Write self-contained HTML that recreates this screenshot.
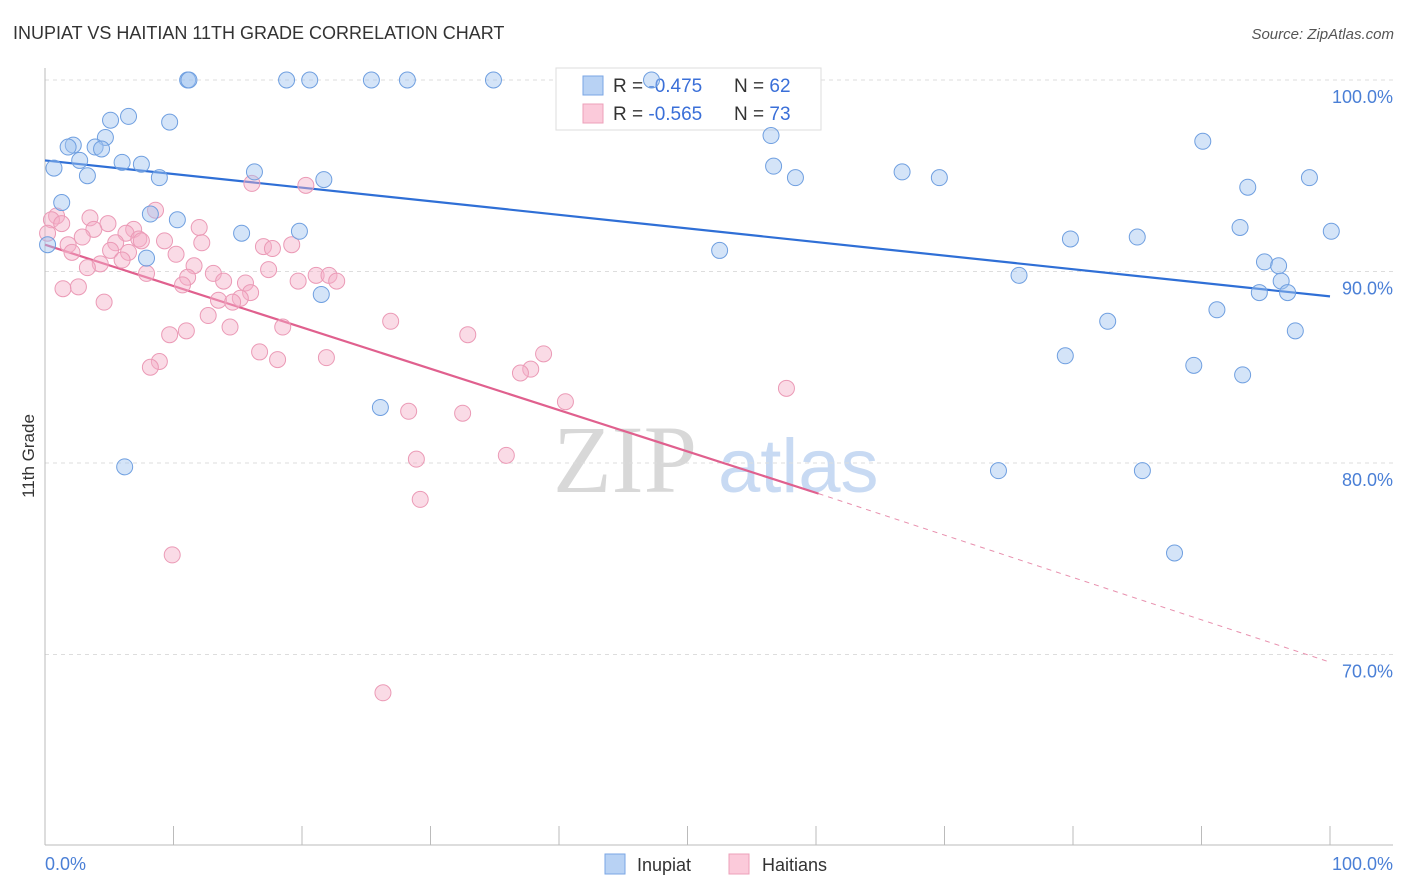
<!DOCTYPE html>
<html><head><meta charset="utf-8">
<style>
body{margin:0;background:#fff;font-family:"Liberation Sans",sans-serif;}
svg{display:block}
</style></head>
<body>
<svg id="chart" width="1406" height="892" viewBox="0 0 1406 892" xmlns="http://www.w3.org/2000/svg">
<text x="13" y="39" font-size="18" fill="#333" font-family="Liberation Sans, sans-serif">INUPIAT VS HAITIAN 11TH GRADE CORRELATION CHART</text>
<text x="1394" y="39" font-size="15" fill="#555" text-anchor="end" font-style="italic">Source: ZipAtlas.com</text>
<g>
<text x="553" y="492" font-size="96" fill="#d8d8d8" font-family="Liberation Serif, serif">ZIP</text>
<text x="718" y="492" font-size="76" fill="#c8daf3" font-family="Liberation Sans, sans-serif">atlas</text>
</g>
<g id="grid"></g>
<g id="axes"></g>
<g>
<rect x="556" y="68" width="265" height="62" fill="#fff" stroke="#ddd"/>
<rect x="583" y="76" width="20" height="19" fill="#b8d2f4" stroke="#7aa6e4"/>
<rect x="583" y="104" width="20" height="19" fill="#fbcada" stroke="#eda0ba"/>
<text x="613" y="92" font-size="19" fill="#333">R = <tspan fill="#3a6fd8">-0.475</tspan></text>
<text x="734" y="92" font-size="19" fill="#333">N = <tspan fill="#3a6fd8">62</tspan></text>
<text x="613" y="120" font-size="19" fill="#333">R = <tspan fill="#3a6fd8">-0.565</tspan></text>
<text x="734" y="120" font-size="19" fill="#333">N = <tspan fill="#3a6fd8">73</tspan></text>
</g>
<g id="trend"></g>
<g id="pts"></g>
<text transform="translate(34,456) rotate(-90)" font-size="17" fill="#333" text-anchor="middle">11th Grade</text>
<text x="45" y="870" font-size="18" fill="#4a7fd6">0.0%</text>
<text x="1393" y="870" font-size="18" fill="#4a7fd6" text-anchor="end">100.0%</text>
<g>
<rect x="605" y="854" width="20" height="20" fill="#b8d2f4" stroke="#7aa6e4"/>
<text x="637" y="871" font-size="18" fill="#333">Inupiat</text>
<rect x="729" y="854" width="20" height="20" fill="#fbcada" stroke="#eda0ba"/>
<text x="762" y="871" font-size="18" fill="#333">Haitians</text>
</g>
</svg>
<script>
const yTicks=[100,90,80,70];
const yTickLabels=["100.0%","90.0%","80.0%","70.0%"];
const xTicks=[0,10,20,30,40,50,60,70,80,90,100];
const inupiatX=[11.1,11.2,18.8,20.6,25.4,28.2,34.9,47.2,6.5,5.1,9.7,4.7,2.2,1.8,3.9,4.4,2.7,6.0,7.5,0.7,3.3,8.9,16.3,21.7,1.3,8.2,10.3,15.3,19.8,0.2,7.9,21.5,26.1,6.2,56.5,56.7,58.4,66.7,69.6,90.1,93.6,98.4,93.0,100.1,79.8,85.0,52.5,94.9,96.0,96.2,94.5,96.7,75.8,91.2,82.7,97.3,79.4,89.4,93.2,74.2,85.4,87.9];
const inupiatY=[100,100,100,100,100,100,100,100,98.1,97.9,97.8,97.0,96.6,96.5,96.5,96.4,95.8,95.7,95.6,95.4,95.0,94.9,95.2,94.8,93.6,93.0,92.7,92.0,92.1,91.4,90.7,88.8,82.9,79.8,97.1,95.5,94.9,95.2,94.9,96.8,94.4,94.9,92.3,92.1,91.7,91.8,91.1,90.5,90.3,89.5,88.9,88.9,89.8,88.0,87.4,86.9,85.6,85.1,84.6,79.6,79.6,75.3];
const haitiansX=[0.9,0.5,1.3,8.6,3.5,4.9,3.8,6.9,6.3,12.0,0.2,2.9,7.3,7.5,9.3,5.5,12.2,1.8,2.1,6.5,5.1,17.0,17.7,19.2,6.0,10.2,4.3,3.3,11.6,7.9,13.1,17.4,11.1,13.9,15.6,19.7,21.1,22.1,22.7,10.7,1.4,2.6,16.0,4.6,13.5,15.2,14.6,12.7,14.4,18.5,9.7,11.0,26.9,32.9,16.7,18.1,21.9,8.9,8.2,38.8,37.8,37.0,40.5,57.7,28.3,32.5,28.9,35.9,29.2,9.9,26.3,16.1,20.3];
const haitiansY=[92.9,92.7,92.5,93.2,92.8,92.5,92.2,92.2,92.0,92.3,92.0,91.8,91.7,91.6,91.6,91.5,91.5,91.4,91.0,91.0,91.1,91.3,91.2,91.4,90.6,90.9,90.4,90.2,90.3,89.9,89.9,90.1,89.7,89.5,89.4,89.5,89.8,89.8,89.5,89.3,89.1,89.2,88.9,88.4,88.5,88.6,88.4,87.7,87.1,87.1,86.7,86.9,87.4,86.7,85.8,85.4,85.5,85.3,85.0,85.7,84.9,84.7,83.2,83.9,82.7,82.6,80.2,80.4,78.1,75.2,68.0,94.6,94.5];
const blueTrend=[[0,95.8],[100,88.7]];
const pinkTrend=[[0,91.4],[60.2,78.4],[100,69.6]];

const NS="http://www.w3.org/2000/svg";
const X0=45,X1=1330,YTOP=80,YPER=19.15;
const xs=v=>X0+(X1-X0)*v/100;
const ys=v=>YTOP+(100-v)*YPER;
function mk(tag,attrs,parent){const e=document.createElementNS(NS,tag);for(const k in attrs)e.setAttribute(k,attrs[k]);parent.appendChild(e);return e;}
const grid=document.getElementById('grid'),axes=document.getElementById('axes');
yTicks.forEach((t,i)=>{
 const l=mk('line',{x1:X0,x2:1393,y1:ys(t),y2:ys(t),stroke:'#ddd','stroke-dasharray':'4,4'},grid);
 
 
 const tx=mk('text',{x:1393,y:ys(t)+23,'font-size':18,fill:'#4a7fd6','text-anchor':'end'},grid);
 tx.textContent=yTickLabels[i];
 
 
});
const ya=mk('line',{x1:X0,x2:X0,y1:68,y2:845,stroke:'#bbb'},axes);


const xa=mk('line',{x1:X0,x2:1393,y1:845,y2:845,stroke:'#bbb'},axes);


xTicks.forEach(t=>{
 const l=mk('line',{x1:xs(t),x2:xs(t),y1:826,y2:845,stroke:'#bbb'},axes);
 
 
});
const tr=document.getElementById('trend');
const b=mk('line',{x1:xs(blueTrend[0][0]),y1:ys(blueTrend[0][1]),x2:xs(blueTrend[1][0]),y2:ys(blueTrend[1][1]),stroke:'#2f6fd6','stroke-width':2.2},tr);


const p1=mk('line',{x1:xs(pinkTrend[0][0]),y1:ys(pinkTrend[0][1]),x2:xs(pinkTrend[1][0]),y2:ys(pinkTrend[1][1]),stroke:'#e0608e','stroke-width':2.2},tr);


const p2=mk('line',{x1:xs(pinkTrend[1][0]),y1:ys(pinkTrend[1][1]),x2:xs(pinkTrend[2][0]),y2:ys(pinkTrend[2][1]),stroke:'#e890ae','stroke-width':1,'stroke-dasharray':'5,5'},tr);


const pts=document.getElementById('pts');
haitiansX.forEach((x,i)=>{
 const c=mk('circle',{cx:xs(x),cy:ys(haitiansY[i]),r:8,fill:'rgba(245,175,200,0.45)',stroke:'#eb9ab6','stroke-width':1},pts);
 
 
});
inupiatX.forEach((x,i)=>{
 const c=mk('circle',{cx:xs(x),cy:ys(inupiatY[i]),r:8,fill:'rgba(160,195,240,0.45)',stroke:'#6f9fe0','stroke-width':1},pts);
 
 
});
</script>
</body></html>
